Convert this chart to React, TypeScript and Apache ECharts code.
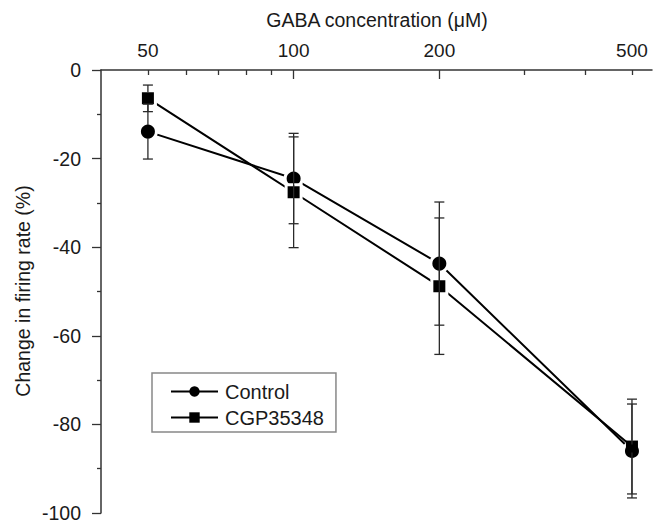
import React, { useEffect, useRef } from "react";
import * as echarts from "echarts";

const concentrations = [50, 100, 200, 500];
const controlMean = [-13.9, -24.5, -43.7, -86];
const controlErr = [6.2, 10.2, 13.9, 10.6];
const cgpMean = [-6.4, -27.6, -48.8, -85];
const cgpErr = [3.0, 12.5, 15.4, 10.7];
const xLabelValues = [50, 100, 200, 500];
const xLongTicks = [100, 200];
const xShortTicks = [50, 60, 70, 80, 90, 300, 400, 500];
const xRange = [40, 550];
const yRange = [-100, 0];

const FONT = "Liberation Sans, Arial, Helvetica, sans-serif";
const AXIS = "#333";
const lg = (v: number) => Math.log10(v);

function errorSeries(name: string, means: number[], errs: number[], r: number) {
  return {
    type: "custom",
    name: name + " err",
    z: 4,
    silent: true,
    xAxisIndex: 0,
    yAxisIndex: 0,
    data: concentrations.map((c, i) => [lg(c), means[i], errs[i]]),
    renderItem: (params: any, api: any) => {
      const x = api.value(0);
      const m = api.value(1);
      const e = api.value(2);
      const c = api.coord([x, m]);
      const hi = api.coord([x, m + e]);
      const lo = api.coord([x, m - e]);
      const hw = 5;
      const style = { stroke: "#2a2a2a", lineWidth: 1.3 };
      const ch: any[] = [];
      if (c[1] - r > hi[1]) ch.push({ type: "line", shape: { x1: c[0], y1: hi[1], x2: c[0], y2: c[1] - r }, style });
      if (c[1] + r < lo[1]) ch.push({ type: "line", shape: { x1: c[0], y1: c[1] + r, x2: c[0], y2: lo[1] }, style });
      ch.push({ type: "line", shape: { x1: c[0] - hw, y1: hi[1], x2: c[0] + hw, y2: hi[1] }, style });
      ch.push({ type: "line", shape: { x1: c[0] - hw, y1: lo[1], x2: c[0] + hw, y2: lo[1] }, style });
      return { type: "group", children: ch };
    },
  };
}

export default function App() {
  const ref = useRef<HTMLDivElement>(null);
  useEffect(() => {
    if (!ref.current) return;
    const chart = echarts.init(ref.current, null, { renderer: "svg" });
    const cgpData = concentrations.map((c, i) => {
      const v = [lg(c), cgpMean[i]];
      if (i === concentrations.length - 1) {
        return { value: v, symbolSize: 12, itemStyle: { borderWidth: 0 } };
      }
      return { value: v };
    });
    const option: any = {
      animation: false,
      backgroundColor: "#fff",
      textStyle: { fontFamily: FONT },
      grid: { left: 101, right: 7, top: 70, bottom: 10, containLabel: false },
      xAxis: [
        {
          type: "value",
          position: "top",
          min: lg(xRange[0]),
          max: lg(xRange[1]),
          axisLine: { show: true, lineStyle: { color: AXIS, width: 1.5 } },
          axisTick: {
            show: true,
            inside: true,
            length: 9,
            customValues: xLongTicks.map(lg),
            lineStyle: { color: AXIS, width: 1.3 },
          },
          axisLabel: {
            show: true,
            customValues: xLabelValues.map(lg),
            formatter: (v: number) => String(Math.round(Math.pow(10, v))),
            color: "#1a1a1a",
            fontSize: 19,
            fontFamily: FONT,
            margin: 10,
          },
          splitLine: { show: false },
        },
        {
          type: "value",
          position: "top",
          min: lg(xRange[0]),
          max: lg(xRange[1]),
          axisLine: { show: false },
          axisTick: {
            show: true,
            inside: true,
            length: 5,
            customValues: xShortTicks.map(lg),
            lineStyle: { color: AXIS, width: 1.3 },
          },
          axisLabel: { show: false },
          splitLine: { show: false },
        },
      ],
      yAxis: {
        type: "value",
        min: yRange[0],
        max: yRange[1],
        interval: 20,
        axisLine: { show: true, lineStyle: { color: AXIS, width: 1.5 } },
        axisTick: { show: true, inside: false, length: 9, lineStyle: { color: AXIS, width: 1.3 } },
        minorTick: { show: true, splitNumber: 2, length: 4, lineStyle: { color: AXIS, width: 1.3 } },
        axisLabel: { color: "#1a1a1a", fontSize: 19.5, fontFamily: FONT, margin: 20 },
        splitLine: { show: false },
        minorSplitLine: { show: false },
      },
      legend: {
        orient: "vertical",
        left: 152,
        top: 373,
        padding: [8, 12, 4, 18],
        borderColor: "#888",
        borderWidth: 1.5,
        backgroundColor: "#fff",
        itemWidth: 47,
        itemHeight: 13,
        itemGap: 5,
        textStyle: { fontSize: 20, color: "#1a1a1a", fontFamily: FONT, lineHeight: 21, padding: [0, 0, 0, 2] },
        itemStyle: { borderWidth: 0 },
        data: ["Control", "CGP35348"],
      },
      graphic: [
        {
          type: "text",
          x: 377,
          y: 20,
          style: { text: "GABA concentration (μM)", fontSize: 19.5, fontFamily: FONT, fill: "#1a1a1a", align: "center", verticalAlign: "middle" },
        },
        {
          type: "text",
          x: 23,
          y: 291,
          rotation: Math.PI / 2,
          style: { text: "Change in firing rate (%)", fontSize: 19.5, fontFamily: FONT, fill: "#1a1a1a", align: "center", verticalAlign: "middle" },
        },
      ],
      series: [
        {
          type: "line",
          name: "Control",
          z: 3,
          xAxisIndex: 0,
          data: concentrations.map((c, i) => [lg(c), controlMean[i]]),
          symbol: "circle",
          symbolSize: 17,
          showSymbol: true,
          lineStyle: { color: "#000", width: 2 },
          itemStyle: { color: "#000", borderColor: "#ffffff", borderWidth: 3 },
        },
        {
          type: "line",
          name: "CGP35348",
          z: 3,
          xAxisIndex: 0,
          data: cgpData,
          symbol: "rect",
          symbolSize: 15,
          showSymbol: true,
          lineStyle: { color: "#000", width: 2 },
          itemStyle: { color: "#000", borderColor: "#ffffff", borderWidth: 3 },
        },
        errorSeries("Control", controlMean, controlErr, 6.5),
        errorSeries("CGP35348", cgpMean, cgpErr, 6),
      ],
    };
    chart.setOption(option);
    return () => chart.dispose();
  }, []);
  return <div ref={ref} style={{ width: 659, height: 523, position: "fixed", left: 0, top: 0 }} />;
}
